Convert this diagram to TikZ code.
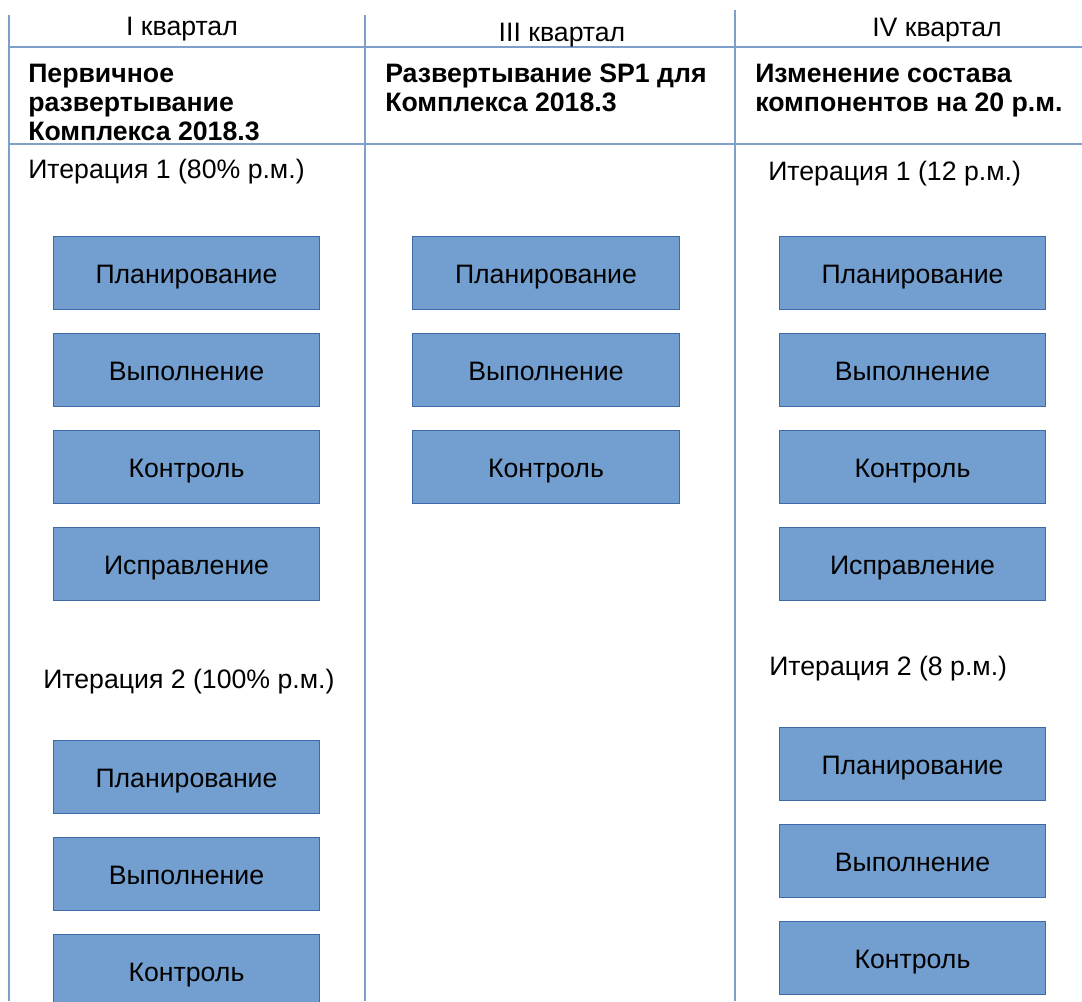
\documentclass[tikz,border=0pt]{standalone}
\usepackage{fontspec}
\setmainfont{Liberation Sans}
\usepackage{xcolor}
\usepackage{tikz}
\usetikzlibrary{positioning}

\definecolor{tableblue}{HTML}{7F9FCB}
\definecolor{taskfill}{HTML}{729FCF}
\definecolor{taskdraw}{HTML}{3F6AA8}

\begin{document}
\begin{tikzpicture}[
    x=0.75pt, y=-0.75pt,
    node distance=17.25pt,
    task/.style={rectangle, draw=taskdraw, fill=taskfill, line width=0.75pt,
                 minimum width=200pt, minimum height=54.75pt, inner sep=0pt,
                 text height=16pt, text depth=0pt,
                 font=\fontsize{20}{22}\selectfont},
    quarter/.style={anchor=base, inner sep=0pt, font=\fontsize{20}{22}\selectfont},
    stagehead/.style={anchor=base west, inner sep=0pt, align=left,
                      font=\fontsize{20}{21.75}\selectfont\bfseries},
    iterlabel/.style={anchor=base west, inner sep=0pt, font=\fontsize{20}{22}\selectfont},
    tableline/.style={tableblue, line width=1.3pt},
]
\useasboundingbox (0,0) rectangle (1082,1001);

% Table rules
\draw[tableline] (9,15) -- (9,1001);
\draw[tableline] (365,15) -- (365,1001);
\draw[tableline] (735,10) -- (735,1001);
\draw[tableline] (9,47) -- (1082,47);
\draw[tableline] (9,144) -- (1082,144);

% Quarter headers
\node[quarter] (q1) at (182,35) {I квартал};
\node[quarter] (q3) at (562,41) {III квартал};
\node[quarter] (q4) at (937,36) {IV квартал};

% Stage titles (base = last line)
\node[stagehead] (s1) at (28,140) {Первичное\\развертывание\\Комплекса 2018.3};
\node[stagehead] (s3) at (385,111) {Развертывание SP1 для\\Комплекса 2018.3};
\node[stagehead] (s4) at (755,111) {Изменение состава\\компонентов на 20 р.м.};

% I quarter, iteration 1
\node[iterlabel] (i1a) at (28,178) {Итерация 1 (80\% р.м.)};
\node[task] (a_pl) at (186.5,272.5) {Планирование};
\node[task, below=of a_pl] (a_ex) {Выполнение};
\node[task, below=of a_ex] (a_ct) {Контроль};
\node[task, below=of a_ct] (a_fx) {Исправление};

% I quarter, iteration 2
\node[iterlabel] (i1b) at (43,688) {Итерация 2 (100\% р.м.)};
\node[task] (b_pl) at (186.5,777) {Планирование};
\node[task, below=of b_pl] (b_ex) {Выполнение};
\node[task, below=of b_ex] (b_ct) {Контроль};

% III quarter
\node[task] (c_pl) at (546,272.5) {Планирование};
\node[task, below=of c_pl] (c_ex) {Выполнение};
\node[task, below=of c_ex] (c_ct) {Контроль};

% IV quarter, iteration 1
\node[iterlabel] (i4a) at (768,180) {Итерация 1 (12 р.м.)};
\node[task] (d_pl) at (912.5,272.5) {Планирование};
\node[task, below=of d_pl] (d_ex) {Выполнение};
\node[task, below=of d_ex] (d_ct) {Контроль};
\node[task, below=of d_ct] (d_fx) {Исправление};

% IV quarter, iteration 2
\node[iterlabel] (i4b) at (769,675) {Итерация 2 (8 р.м.)};
\node[task] (e_pl) at (912.5,763.5) {Планирование};
\node[task, below=of e_pl] (e_ex) {Выполнение};
\node[task, below=of e_ex] (e_ct) {Контроль};

\end{tikzpicture}
\end{document}
